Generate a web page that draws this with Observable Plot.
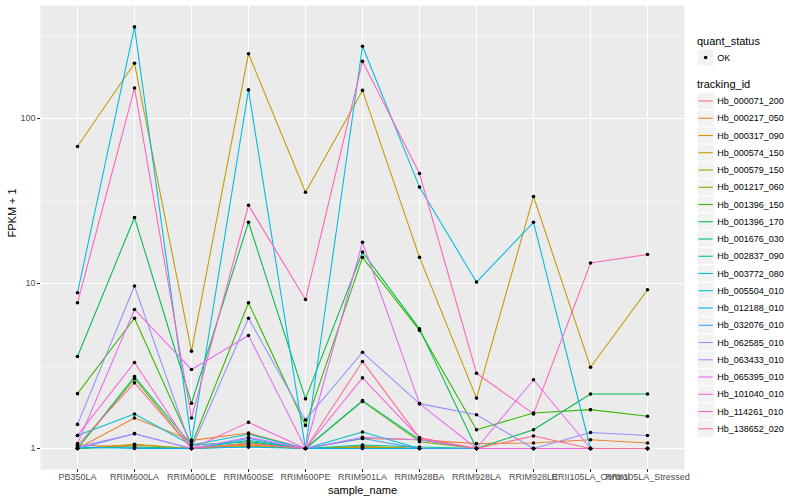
<!DOCTYPE html>
<html>
<head>
<meta charset="utf-8">
<script src="https://cdn.jsdelivr.net/npm/d3@7"></script>
<script src="https://cdn.jsdelivr.net/npm/@observablehq/plot@0.6"></script>
<style>
  body { margin: 0; background: white; }
  #chart { width: 800px; height: 500px; }
</style>
</head>
<body>
<div id="chart"></div>
<script>
const samples = ["PB350LA", "RRIM600LA", "RRIM600LE", "RRIM600SE", "RRIM600PE", "RRIM901LA",
  "RRIM928BA", "RRIM928LA", "RRIM928LE", "RRII105LA_Control", "RRII105LA_Stressed"];

const genes = ["Hb_000071_200", "Hb_000217_050", "Hb_000317_090", "Hb_000574_150", "Hb_000579_150",
  "Hb_001217_060", "Hb_001396_150", "Hb_001396_170", "Hb_001676_030", "Hb_002837_090",
  "Hb_003772_080", "Hb_005504_010", "Hb_012188_010", "Hb_032076_010", "Hb_062585_010",
  "Hb_063433_010", "Hb_065395_010", "Hb_101040_010", "Hb_114261_010", "Hb_138652_020"];

const geneColors = ["#F8766D", "#EA8331", "#D89000", "#C09B00", "#A3A500", "#7CAE00", "#39B600",
  "#00BB4E", "#00BF7D", "#00C1A3", "#00BFC4", "#00BAE0", "#00B0F6", "#35A2FF", "#9590FF",
  "#C77CFF", "#E76BF3", "#FA62DB", "#FF62BC", "#FF6C91"];

// FPKM + 1 per gene (rows follow genes), columns follow samples
const fpkmPlus1 = [
  [1.05, 1.02, 1.00, 1.07, 1.00, 1.02, 1.00, 1.00, 1.00, 1.00, 1.00],
  [1.00, 1.53, 1.12, 1.24, 1.00, 1.15, 1.13, 1.07, 1.08, 1.13, 1.08],
  [1.00, 1.06, 1.00, 1.05, 1.00, 1.03, 1.00, 1.00, 1.00, 1.00, 1.00],
  [67.7, 216, 3.89, 247, 35.7, 148, 14.4, 2.02, 33.7, 3.11, 9.16],
  [1.00, 1.05, 1.00, 1.03, 1.00, 1.02, 1.00, 1.00, 1.00, 1.00, 1.00],
  [1.00, 2.65, 1.00, 1.08, 1.00, 1.93, 1.10, 1.00, 1.00, 1.00, 1.00],
  [2.15, 6.16, 1.05, 7.64, 1.38, 14.4, 5.20, 1.30, 1.64, 1.72, 1.57],
  [3.61, 25.1, 1.88, 23.5, 2.00, 15.5, 5.31, 1.00, 1.30, 2.14, 2.14],
  [1.00, 2.73, 1.05, 1.10, 1.00, 1.95, 1.13, 1.00, 1.00, 1.00, 1.00],
  [1.00, 1.02, 1.00, 1.12, 1.00, 1.05, 1.02, 1.00, 1.00, 1.00, 1.00],
  [1.20, 1.62, 1.05, 1.22, 1.00, 1.26, 1.00, 1.00, 1.00, 1.00, 1.00],
  [8.78, 359, 1.10, 149, 1.00, 274, 38.4, 10.2, 23.5, 1.00, 1.00],
  [1.02, 1.00, 1.00, 1.02, 1.00, 1.00, 1.00, 1.00, 1.00, 1.00, 1.00],
  [1.00, 1.23, 1.00, 1.15, 1.00, 1.15, 1.00, 1.00, 1.00, 1.00, 1.00],
  [1.40, 9.65, 1.00, 6.16, 1.49, 3.83, 1.87, 1.60, 1.00, 1.25, 1.20],
  [1.02, 1.23, 1.00, 1.17, 1.00, 1.17, 1.13, 1.00, 1.00, 1.00, 1.00],
  [1.07, 6.96, 3.01, 4.84, 1.00, 17.8, 1.87, 1.00, 2.61, 1.00, 1.00],
  [1.20, 3.32, 1.00, 1.44, 1.00, 2.68, 1.16, 1.00, 1.00, 1.00, 1.00],
  [7.64, 153, 1.53, 29.8, 8.00, 222, 46.4, 2.86, 1.62, 13.3, 15.0],
  [1.05, 2.50, 1.00, 1.07, 1.00, 3.37, 1.16, 1.00, 1.19, 1.00, 1.00]
];

const yMajor = [1, 10, 100];
const yMinor = [Math.sqrt(10), Math.sqrt(1000), Math.sqrt(100000)];
const quantStatus = ["OK"];

const data = genes.flatMap((g, i) => samples.map((s, j) => ({gene: g, sample: s, value: fpkmPlus1[i][j], status: "OK"})));

const font = "'Liberation Sans', Arial, Helvetica, sans-serif";

const plot = Plot.plot({
  width: 800,
  height: 500,
  marginLeft: 40,
  marginRight: 116,
  marginTop: 5,
  marginBottom: 31,
  style: {fontFamily: font, fontSize: "9px", background: "white", overflow: "visible"},
  x: {type: "point", domain: samples, padding: 0.6, label: null},
  y: {type: "log", domain: [0.746, 484], label: null},
  color: {domain: genes, range: geneColors},
  marks: [
    Plot.frame({fill: "#EBEBEB", stroke: null}),
    Plot.gridY(yMinor, {stroke: "white", strokeOpacity: 1, strokeWidth: 0.55}),
    Plot.gridY(yMajor, {stroke: "white", strokeOpacity: 1, strokeWidth: 1.1}),
    Plot.gridX(samples, {stroke: "white", strokeOpacity: 1, strokeWidth: 1.1}),
    Plot.line(data, {x: "sample", y: "value", z: "gene", stroke: "gene", strokeWidth: 1.07}),
    Plot.dot(data, {x: "sample", y: "value", r: 1.8, fill: "black", stroke: null}),
    Plot.axisY(yMajor, {tickFormat: d => String(d), tickSize: 3, tickPadding: 2, stroke: "#333333", fill: "#4D4D4D", fontSize: 9, label: null}),
    Plot.axisX(samples, {tickSize: 3, tickPadding: 1, stroke: "#333333", fill: "#4D4D4D", fontSize: 9, label: null}),
    Plot.text(["FPKM + 1"], {frameAnchor: "left", dx: -28, rotate: -90, fontSize: 11, fill: "black"}),
    Plot.text(["sample_name"], {frameAnchor: "bottom", lineAnchor: "middle", dy: 21, fontSize: 11, fill: "black"})
  ]
});

document.getElementById("chart").appendChild(plot);

// Legend (ggplot style) drawn into the same SVG
const svg = d3.select(plot);
const lg = svg.append("g").attr("font-family", font).attr("text-anchor", "start");
const lx = 697, keyW = 17.28, keyH = 17.28;

lg.append("text").attr("x", lx).attr("y", 44.5).attr("font-size", 11).attr("fill", "black").text("quant_status");
quantStatus.forEach((q, i) => {
  const cy = 57.5 + i * keyH;
  lg.append("rect").attr("x", lx).attr("y", cy - keyH / 2).attr("width", keyW).attr("height", keyH)
    .attr("fill", "#F2F2F2").attr("stroke", "white").attr("stroke-width", 1);
  lg.append("circle").attr("cx", lx + keyW / 2).attr("cy", cy).attr("r", 1.8).attr("fill", "black");
  lg.append("text").attr("x", lx + keyW + 3).attr("y", cy).attr("dy", "0.35em").attr("font-size", 9).attr("fill", "black").text(q);
});

lg.append("text").attr("x", lx).attr("y", 88).attr("font-size", 11).attr("fill", "black").text("tracking_id");
genes.forEach((g, i) => {
  const cy = 101 + i * 17.25;
  lg.append("rect").attr("x", lx).attr("y", cy - keyH / 2).attr("width", keyW).attr("height", keyH)
    .attr("fill", "#F2F2F2").attr("stroke", "white").attr("stroke-width", 1);
  lg.append("line").attr("x1", lx + 1.5).attr("x2", lx + keyW - 1.5).attr("y1", cy).attr("y2", cy)
    .attr("stroke", geneColors[i]).attr("stroke-width", 1.1);
  lg.append("text").attr("x", lx + keyW + 3).attr("y", cy).attr("dy", "0.35em").attr("font-size", 9).attr("fill", "black").text(g);
});
</script>
</body>
</html>
